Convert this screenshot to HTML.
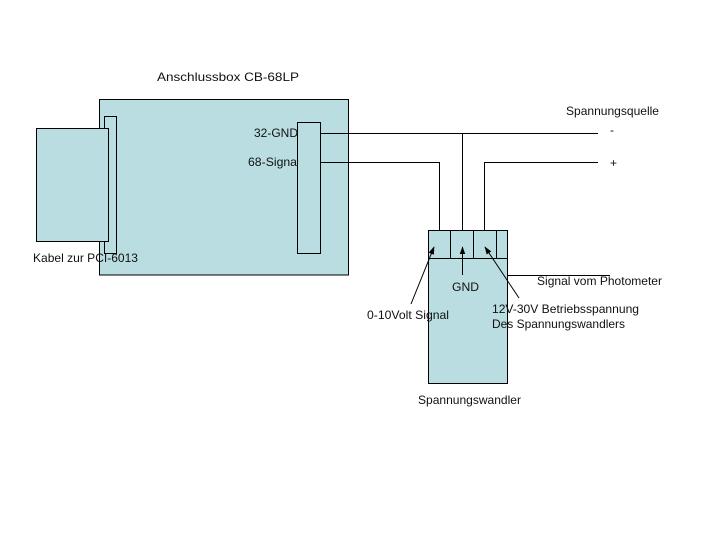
<!DOCTYPE html>
<html>
<head>
<meta charset="utf-8">
<style>
html,body{margin:0;padding:0;background:#fff;width:720px;height:540px;overflow:hidden}
svg{display:block}
text{font-family:"Liberation Sans",Arial,sans-serif;font-size:12px;fill:#111}
</style>
</head>
<body>
<svg width="720" height="540" viewBox="0 0 720 540" xmlns="http://www.w3.org/2000/svg">
<defs>
<marker id="a" viewBox="0 0 10 10" refX="9" refY="5" markerWidth="8" markerHeight="8" markerUnits="userSpaceOnUse" orient="auto">
<path d="M0 1.5L10 5L0 8.5Z" fill="#000"/>
</marker>
</defs>
<g fill="#b9dde1" stroke="#000" stroke-width="1">
<rect x="99.5" y="99.5" width="249" height="175.5"/>
<rect x="104.5" y="116.5" width="12" height="137"/>
<rect x="36.5" y="128.5" width="72" height="113"/>
<rect x="297.5" y="122.5" width="23" height="131"/>
<rect x="428.5" y="230.5" width="79" height="153"/>
</g>
<g fill="none" stroke="#000" stroke-width="1">
<path d="M320.5 133.5H598"/>
<path d="M320.5 162.5H439.5V230.5"/>
<path d="M462.5 133.5V230.5"/>
<path d="M598 162.5H484.5V230.5"/>
<path d="M428.5 258.5H507.5"/>
<path d="M450.5 230.5V258.5M473.5 230.5V258.5M496.5 230.5V258.5"/>
<path d="M507.5 275.5H610"/>
<path d="M411 304L434 247" marker-end="url(#a)"/>
<path d="M462.5 275V247" marker-end="url(#a)"/>
<path d="M519 298L485 247" marker-end="url(#a)"/>
</g>
<text x="157" y="81" textLength="142" lengthAdjust="spacingAndGlyphs">Anschlussbox CB-68LP</text>
<text x="566" y="115" textLength="93" lengthAdjust="spacingAndGlyphs">Spannungsquelle</text>
<text x="610" y="134">-</text>
<text x="610" y="167">+</text>
<text x="254" y="137" textLength="44" lengthAdjust="spacingAndGlyphs">32-GND</text>
<text x="248" y="166" textLength="49" lengthAdjust="spacingAndGlyphs">68-Signa</text>
<text x="33" y="262" textLength="105" lengthAdjust="spacingAndGlyphs">Kabel zur PCI-6013</text>
<text x="537" y="285" textLength="125" lengthAdjust="spacingAndGlyphs">Signal vom Photometer</text>
<text x="452" y="291" textLength="27" lengthAdjust="spacingAndGlyphs">GND</text>
<text x="492" y="313" textLength="147" lengthAdjust="spacingAndGlyphs">12V-30V Betriebsspannung</text>
<text x="492" y="328" textLength="133" lengthAdjust="spacingAndGlyphs">Des Spannungswandlers</text>
<text x="367" y="319" textLength="82" lengthAdjust="spacingAndGlyphs">0-10Volt Signal</text>
<text x="418" y="404" textLength="103" lengthAdjust="spacingAndGlyphs">Spannungswandler</text>
</svg>
</body>
</html>
